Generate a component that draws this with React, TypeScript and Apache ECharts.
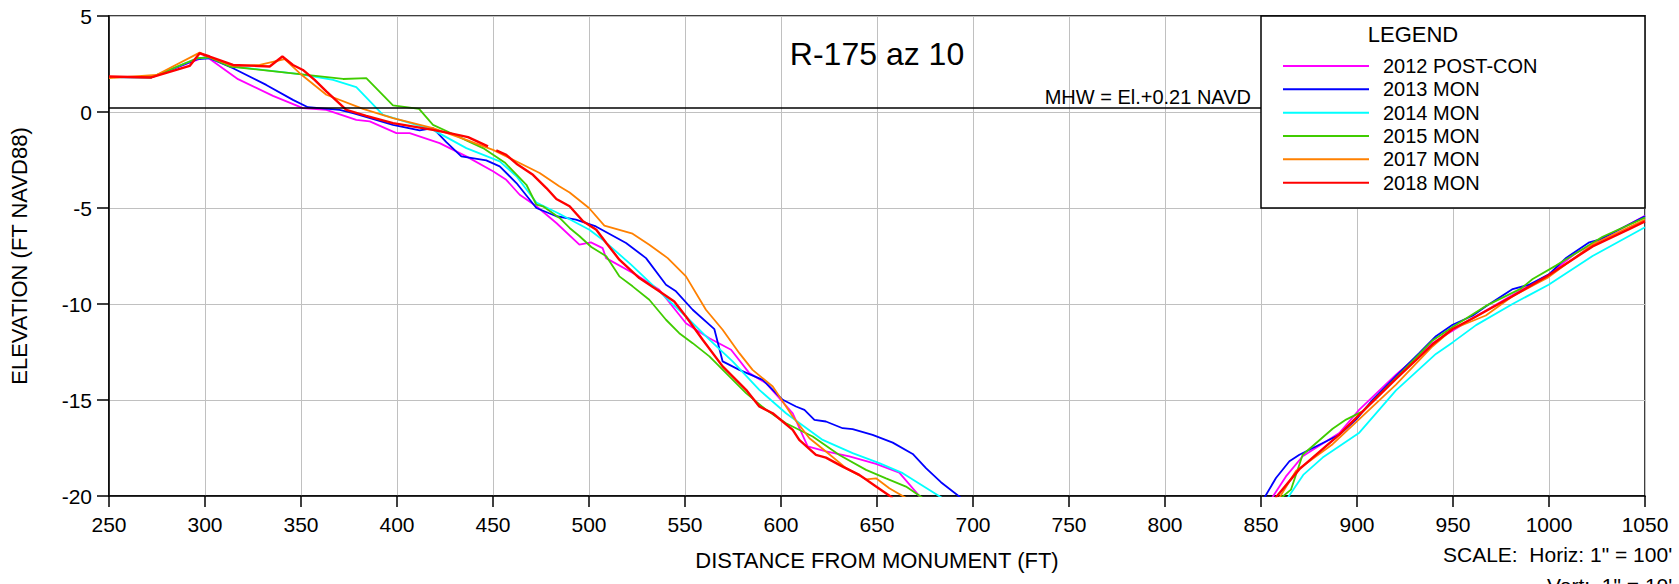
import React, { useEffect, useRef } from "react";
import * as echarts from "echarts";

// ---- axis settings ----
const X_MIN = 250;
const X_MAX = 1050;
const X_STEP = 50;
const Y_MIN = -20;
const Y_MAX = 5;
const Y_STEP = 5;

const MHW = 0.21;
const MHW_END_X = 850;
const TITLE = "R-175 az 10";
const X_NAME = "DISTANCE FROM MONUMENT (FT)";
const Y_NAME = "ELEVATION (FT NAVD88)";
const SCALE_H = "SCALE:  Horiz: 1\" = 100'";
const SCALE_V = "Vert:  1\" = 10'";

const SERIES_NAMES = ["2012 POST-CON", "2013 MON", "2014 MON", "2015 MON", "2017 MON", "2018 MON"];
const SERIES_COLORS = ["#ff00ff", "#0000ff", "#00ffff", "#40cc00", "#ff8000", "#ff0000"];
const SERIES_WIDTHS = [1.8, 1.8, 1.8, 1.8, 1.8, 2.4];

// ---- profiles: [distance ft, elevation ft]; null elevation = break ----
const P2012 = [
  [250, 1.82], [272, 1.8], [293.8, 2.63], [300.7, 2.89], [317.2, 1.71], [335.4, 0.84], [351, 0.2],
  [363.2, 0.11], [378.8, -0.41], [385.8, -0.49], [399.7, -1.1], [406.6, -1.1], [422.2, -1.62],
  [436.1, -2.31], [450, -3.09], [456.9, -3.53], [463.9, -4.31], [472.6, -4.91], [483, -5.78],
  [495, -6.91], [501, -6.79], [507.1, -7.09], [508.9, -7.61], [524.5, -8.48], [536.6, -9.26],
  [550.5, -11.0], [562.7, -11.78], [574, -12.38], [583.5, -13.6], [592.2, -14.12], [606.1, -15.69],
  [613.9, -17.42], [623.4, -17.68], [635.6, -17.94], [649.5, -18.33], [661.6, -18.78], [672.9, -20.1],
  [770, null],
  [855.7, -20.1], [863, -18.98], [871.7, -17.93], [890.8, -16.72], [901.2, -15.5], [920.3, -13.68],
  [939.4, -12.03], [962, -10.64], [982.8, -9.43], [999.8, -8.47], [1014.1, -7.34], [1050, -5.4],
];

const P2013 = [
  [250, 1.82], [272, 1.8], [296, 2.75], [302.4, 2.8], [314.6, 2.28], [331.9, 1.41], [345.8, 0.63],
  [353.6, 0.25], [370.1, 0.11], [377.1, -0.06], [397.9, -0.67], [411.8, -0.96], [418.75, -0.84],
  [425.7, -1.57], [433.5, -2.31], [446.5, -2.52], [453.5, -2.83], [462.2, -3.7], [472.6, -5.0],
  [483, -5.43], [493.2, -5.61], [503.6, -5.96], [519.3, -6.82], [529.7, -7.61], [540.1, -9.0],
  [545.3, -9.34], [554, -10.3], [565.3, -11.31], [569.6, -12.99], [578.3, -13.43], [590.5, -13.95],
  [600.9, -14.99], [607.8, -15.34], [612.2, -15.51], [617.4, -16.03], [623.4, -16.12], [632.1, -16.47],
  [637.3, -16.52], [647.7, -16.82], [658.2, -17.22], [668.6, -17.81], [675.5, -18.55], [683.3, -19.28],
  [693.8, -20.1],
  [770, null],
  [851.7, -20.1], [857.8, -19.06], [864.8, -18.19], [870, -17.85], [880.4, -17.33], [890.8, -16.81],
  [899.5, -16.02], [908.2, -14.98], [922, -13.59], [932.5, -12.55], [941.1, -11.68], [949.8, -11.08],
  [960.2, -10.61], [967.2, -10.12], [981.1, -9.22], [989.8, -8.99], [999.8, -8.47], [1008.9, -7.6],
  [1021, -6.79], [1026.2, -6.65], [1050, -5.43],
];

const P2014 = [
  [250, 1.82], [272, 1.8], [296, 2.8], [302, 2.85], [314.6, 2.37], [349.3, 1.97], [366.7, 1.67],
  [378.8, 1.29], [392.7, -0.15], [418.75, -0.93], [436.1, -1.88], [453.5, -2.57], [462.2, -3.35],
  [472.6, -4.71], [484.5, -5.3], [500.2, -6.13], [507.1, -6.65], [521.9, -7.95], [536.6, -9.34],
  [550.5, -10.65], [562.7, -11.86], [574.8, -12.99], [588.7, -14.47], [602.6, -15.69], [621.7, -17.08],
  [637.3, -17.77], [651.2, -18.29], [663.4, -18.81], [683.9, -20.1],
  [770, null],
  [863.9, -20.1], [872, -18.9], [882.1, -18.0], [901.2, -16.7], [920.3, -14.5], [941.1, -12.6],
  [949.8, -12.0], [962, -11.1], [981, -10.0], [999.8, -9.0], [1022.7, -7.5], [1050, -6.0],
];

const P2015 = [
  [250, 1.82], [272, 1.8], [296, 2.8], [302, 2.85], [312.8, 2.37], [349.3, 1.97], [371.9, 1.72],
  [384, 1.76], [397.9, 0.34], [411.5, 0.16], [418.75, -0.67], [427.4, -1.07], [436.1, -1.48],
  [444.8, -1.88], [456.1, -2.63], [467.4, -3.79], [472.6, -4.83], [476, -4.91], [484.7, -5.52],
  [489.9, -6.04], [495.1, -6.47], [501.2, -7.03], [509, -7.51], [515.8, -8.56], [522.7, -9.08],
  [531.4, -9.78], [540.1, -10.82], [547, -11.52], [554, -12.04], [562.7, -12.73], [571.4, -13.6],
  [581.8, -14.64], [592.2, -15.51], [602.6, -16.21], [616.5, -16.9], [630.4, -17.86], [644.3, -18.64],
  [654.7, -19.08], [665.1, -19.51], [673.8, -20.1],
  [770, null],
  [860.4, -20.1], [865.6, -19.67], [871.7, -17.85], [887.3, -16.5], [894.3, -16.02], [902.9, -15.59],
  [922, -13.68], [939.4, -11.9], [949.8, -11.2], [967.1, -10.1], [985.4, -9.2], [991.5, -8.7],
  [1003.6, -8.0], [1027.9, -6.5], [1050, -5.5],
];

const P2017 = [
  [250, 1.76], [274.7, 1.93], [297.2, 3.09], [300.7, 2.92], [314.6, 2.4], [328.5, 2.45], [341.5, 2.75],
  [349.3, 2.02], [363.2, 0.9], [382.3, 0.16], [397.9, -0.32], [418.75, -0.84], [436.1, -1.45],
  [450, -1.97], [474.3, -3.18], [484.5, -3.87], [489.9, -4.19], [500, -5.0], [508, -5.92],
  [522.7, -6.34], [531.4, -6.91], [541, -7.61], [550.5, -8.56], [560.9, -10.3], [569.6, -11.34],
  [578.3, -12.56], [585.2, -13.43], [595.7, -14.3], [606.1, -15.86], [614.8, -16.99], [623.4, -17.68],
  [633.9, -18.55], [644.3, -19.13], [649.5, -19.08], [656.4, -19.6], [665.1, -20.1],
  [770, null],
  [859.5, -20.1], [868.2, -18.7], [887.3, -17.3], [901.2, -16.0], [920.3, -14.2], [939.4, -12.2],
  [949.8, -11.3], [967.1, -10.6], [981, -9.6], [999.8, -8.6], [1022.7, -6.9], [1050, -5.6],
];

const P2018 = [
  [250, 1.85], [272, 1.8], [292, 2.4], [297.2, 3.06], [302.4, 2.89], [314.6, 2.45], [333.7, 2.37],
  [340.3, 2.89], [345.8, 2.45], [351, 2.19], [357.1, 1.67], [363.2, 1.07], [373.6, 0.11], [384, -0.2],
  [397.9, -0.58], [418.75, -0.93], [429.2, -1.14], [437, -1.31], [447.4, -1.79],
  [449.5, null],
  [451.7, -2.0], [456.9, -2.23], [462.2, -2.69], [470.8, -3.27], [477.8, -3.96], [483, -4.53],
  [489.9, -4.91], [496.9, -5.69], [503.8, -6.13], [509, -6.82], [515.8, -7.69], [526.2, -8.65],
  [536.6, -9.34], [544.4, -9.87], [550.5, -10.65], [559.2, -11.86], [569.6, -13.25], [581.8, -14.47],
  [588.7, -15.34], [595.7, -15.69], [606.1, -16.56], [609.5, -17.08], [618.2, -17.86], [623.4, -18.0],
  [632.1, -18.47], [640.8, -18.9], [649.5, -19.51], [658.2, -20.1],
  [770, null],
  [857.5, -20.1], [870, -18.6], [890.8, -16.8], [899.8, -15.9], [920.3, -13.9], [939.4, -12.1],
  [949.8, -11.3], [962, -10.65], [981, -9.6], [999.8, -8.5], [1022.7, -7.0], [1041.7, -6.1], [1050, -5.7],
];

const PROFILES = [P2012, P2013, P2014, P2015, P2017, P2018];

const FONT = "'Liberation Sans', Arial, Helvetica, sans-serif";

export default function App() {
  const ref = useRef<HTMLDivElement>(null);

  useEffect(() => {
    document.body.style.margin = "0";
    const chart = echarts.init(ref.current as HTMLDivElement, null, { renderer: "svg" });

    const series: any[] = PROFILES.map((data, i) => ({
      name: SERIES_NAMES[i],
      type: "line",
      data,
      showSymbol: false,
      symbol: "none",
      clip: true,
      connectNulls: false,
      color: SERIES_COLORS[i],
      lineStyle: { color: SERIES_COLORS[i], width: SERIES_WIDTHS[i] },
      emphasis: { disabled: true },
    }));

    series[0].markLine = {
      silent: true,
      symbol: ["none", "none"],
      animation: false,
      lineStyle: { color: "#000", width: 1.5, type: "solid" },
      label: {
        show: true,
        position: "insideEndTop",
        formatter: `MHW = El.+${MHW} NAVD`,
        color: "#000",
        fontSize: 20,
        fontFamily: FONT,
        distance: [10, 1],
      },
      data: [[{ coord: [X_MIN, MHW] }, { coord: [MHW_END_X, MHW] }]],
    };

    chart.setOption({
      animation: false,
      backgroundColor: "#fff",
      textStyle: { fontFamily: FONT, color: "#000" },
      grid: {
        left: 109,
        top: 16,
        width: 1536,
        height: 480,
        show: true,
        borderColor: "#000",
        borderWidth: 1.5,
        backgroundColor: "transparent",
        containLabel: false,
      },
      xAxis: {
        type: "value",
        min: X_MIN,
        max: X_MAX,
        interval: X_STEP,
        name: X_NAME,
        nameLocation: "middle",
        nameGap: 53,
        nameTextStyle: { fontSize: 22, color: "#000", fontFamily: FONT },
        axisLine: { show: true, onZero: false, lineStyle: { color: "#000", width: 1.5 } },
        axisTick: { show: true, length: 11, lineStyle: { color: "#000", width: 1.5 } },
        axisLabel: {
          fontSize: 21,
          color: "#000",
          margin: 18,
          fontFamily: FONT,
          formatter: (v: number) => String(v),
        },
        splitLine: { show: true, lineStyle: { color: "#c0c0c0", width: 1 } },
      },
      yAxis: {
        type: "value",
        min: Y_MIN,
        max: Y_MAX,
        interval: Y_STEP,
        name: Y_NAME,
        nameLocation: "middle",
        nameGap: 79,
        nameTextStyle: { fontSize: 22, color: "#000", fontFamily: FONT },
        axisLine: { show: true, onZero: false, lineStyle: { color: "#000", width: 1.5 } },
        axisTick: { show: true, length: 12, lineStyle: { color: "#000", width: 1.5 } },
        axisLabel: {
          fontSize: 21,
          color: "#000",
          margin: 17,
          fontFamily: FONT,
          formatter: (v: number) => String(v),
        },
        splitLine: { show: true, lineStyle: { color: "#c0c0c0", width: 1 } },
      },
      legend: {
        show: true,
        orient: "vertical",
        left: 1283,
        top: 54.5,
        padding: 0,
        itemWidth: 86,
        itemHeight: 2,
        itemGap: 0.33,
        icon: "rect",
        selectedMode: false,
        z: 10,
        data: SERIES_NAMES,
        textStyle: {
          fontSize: 20,
          lineHeight: 20,
          color: "#000",
          fontFamily: FONT,
          padding: [0, 0, 3, 9],
        },
      },
      graphic: [
        {
          type: "rect",
          z: 5,
          shape: { x: 1261, y: 16, width: 384, height: 192 },
          style: { fill: "#fff", stroke: "#000", lineWidth: 1.5 },
        },
        {
          type: "text",
          z: 6,
          x: 1413,
          y: 34.5,
          style: {
            text: "LEGEND",
            fontSize: 22,
            fontFamily: FONT,
            fill: "#000",
            textAlign: "center",
            textVerticalAlign: "middle",
          },
        },
        {
          type: "text",
          z: 6,
          x: 877,
          y: 54,
          style: {
            text: TITLE,
            fontSize: 32,
            fontFamily: FONT,
            fill: "#000",
            textAlign: "center",
            textVerticalAlign: "middle",
          },
        },
        {
          type: "text",
          z: 6,
          x: 1443,
          y: 554.5,
          style: {
            text: SCALE_H,
            fontSize: 21,
            fontFamily: FONT,
            fill: "#000",
            textAlign: "left",
            textVerticalAlign: "middle",
          },
        },
        {
          type: "text",
          z: 6,
          x: 1547,
          y: 585,
          style: {
            text: SCALE_V,
            fontSize: 21,
            fontFamily: FONT,
            fill: "#000",
            textAlign: "left",
            textVerticalAlign: "middle",
          },
        },
      ],
      series,
    });

    return () => chart.dispose();
  }, []);

  return <div ref={ref} style={{ width: 1679, height: 584 }} />;
}
